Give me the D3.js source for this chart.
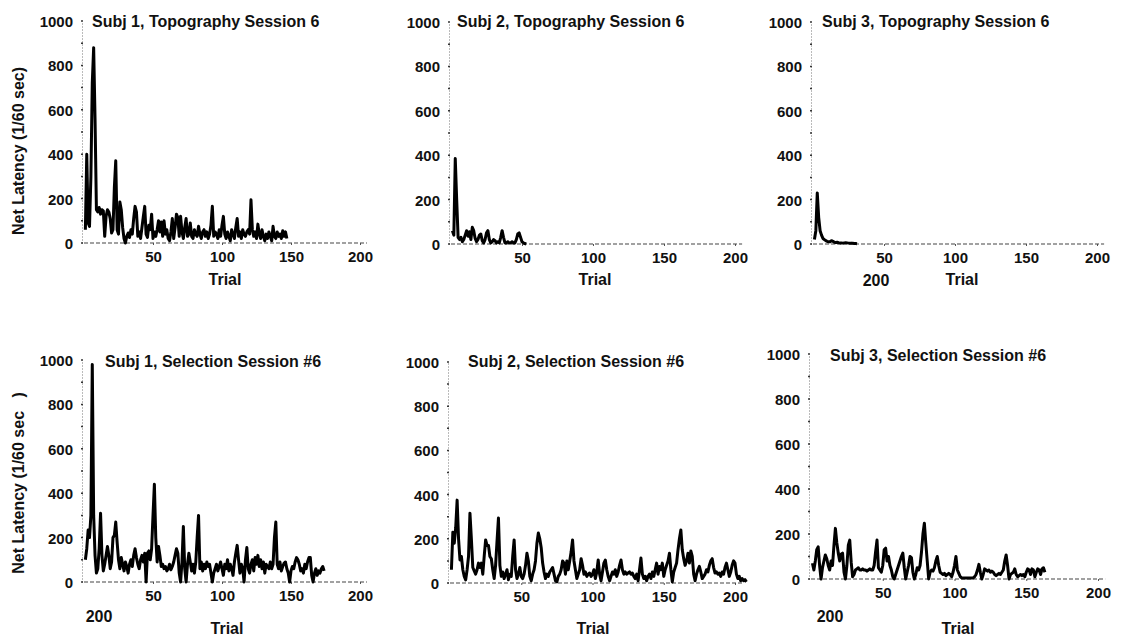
<!DOCTYPE html>
<html>
<head>
<meta charset="utf-8">
<script src="https://cdn.jsdelivr.net/npm/d3@7"></script>
<style>
  html, body { margin: 0; padding: 0; background: #fff; }
  svg { display: block; font-family: "Liberation Sans", Arial, sans-serif; }
  .tick text { font-size: 15px; font-weight: bold; fill: #111; }
  .ttl, .lbl { font-size: 16px; font-weight: bold; fill: #111; }
</style>
</head>
<body>
<svg id="chart" width="1130" height="638"></svg>
<script>
// net latency per trial (1/60 sec)
const topoS1 = [60, 400, 90, 75, 300, 720, 880, 560, 150, 140, 160, 130, 150, 145, 30, 120, 150, 140, 110, 45,
  60, 250, 370, 60, 40, 185, 150, 70, 20, 0, 30, 45, 25, 60, 40, 110, 165, 140, 30, 50,
  20, 70, 120, 165, 40, 25, 80, 60, 130, 20, 50, 30, 60, 100, 50, 95, 30, 100, 40, 60,
  20, 10, 50, 110, 20, 70, 130, 115, 30, 120, 50, 20, 70, 110, 30, 40, 90, 30, 20, 60,
  40, 30, 75, 40, 20, 50, 60, 30, 50, 20, 40, 80, 165, 30, 50, 40, 20, 60, 30, 80,
  120, 40, 20, 50, 30, 10, 60, 40, 20, 70, 110, 30, 50, 20, 60, 40, 30, 50, 60, 40,
  195, 60, 30, 50, 20, 85, 40, 20, 60, 30, 10, 40, 20, 50, 30, 10, 75, 30, 20, 50,
  30, 40, 20, 55, 30, 50, 20];
const topoS2 = [60, 40, 385, 200, 30, 20, 30, 10, 20, 40, 60, 35, 55, 20, 75, 60, 25, 10, 20, 40,
  45, 15, 5, 20, 50, 60, 20, 5, 10, 20, 15, 5, 10, 5, 30, 60, 30, 5, 5, 10,
  5, 5, 10, 5, 5, 20, 45, 50, 30, 10, 5, 2, 0];
const topoS3 = [20, 60, 230, 120, 60, 40, 25, 20, 15, 12, 10, 10, 15, 12, 8, 6, 8, 6, 5, 5,
  4, 5, 6, 5, 4, 3, 4, 3, 2, 2, 1];
const selS1 = [100, 150, 234, 200, 300, 980, 300, 120, 40, 60, 150, 310, 120, 50, 80, 120, 160, 120, 60, 90,
  200, 210, 270, 180, 100, 60, 110, 80, 50, 90, 70, 40, 80, 100, 70, 120, 150, 110, 80, 60,
  100, 120, 90, 130, 0, 130, 140, 100, 150, 300, 440, 200, 90, 160, 120, 70, 80, 60, 70, 50,
  60, 80, 55, 70, 90, 120, 150, 130, 40, 0, 90, 250, 60, 0, 80, 130, 90, 50, 80, 40,
  90, 200, 300, 60, 90, 50, 80, 60, 90, 70, 80, 40, 0, 40, 60, 80, 50, 70, 90, 60,
  30, 80, 60, 100, 50, 80, 60, 30, 90, 130, 165, 100, 40, 80, 60, 0, 100, 155, 60, 40,
  80, 100, 50, 110, 80, 120, 70, 100, 60, 90, 40, 80, 70, 60, 90, 60, 80, 200, 270, 80,
  60, 90, 50, 70, 85, 90, 60, 40, 0, 50, 70, 60, 90, 110, 100, 80, 50, 60, 40, 80,
  60, 90, 110, 110, 30, 0, 40, 60, 30, 50, 40, 60, 70, 50];
const selS2 = [60, 230, 180, 250, 375, 200, 104, 120, 60, 30, 14, 60, 120, 316, 200, 70, 55, 40, 60, 90,
  70, 90, 40, 120, 195, 170, 170, 120, 110, 60, 20, 80, 190, 294, 80, 30, 50, 20, 40, 60,
  15, 40, 30, 120, 195, 60, 20, 40, 70, 30, 20, 40, 80, 135, 100, 30, 10, 40, 60, 100,
  180, 226, 200, 160, 90, 50, 20, 40, 30, 50, 60, 70, 40, 10, 5, 30, 40, 60, 100, 90,
  40, 100, 60, 100, 140, 195, 100, 60, 20, 40, 60, 110, 80, 40, 50, 30, 40, 45, 30, 40,
  60, 20, 50, 104, 40, 10, 50, 90, 104, 60, 30, 10, 30, 50, 40, 60, 30, 50, 80, 104,
  60, 40, 50, 40, 45, 50, 40, 45, 30, 20, 40, 10, 60, 113, 40, 20, 30, 10, 30, 40,
  20, 50, 30, 60, 90, 40, 75, 60, 90, 30, 60, 80, 100, 135, 60, 5, 50, 70, 90, 150,
  200, 240, 150, 110, 80, 100, 135, 90, 145, 120, 40, 10, 40, 60, 75, 50, 20, 30, 40, 60,
  50, 80, 100, 110, 70, 45, 50, 40, 45, 30, 50, 40, 70, 90, 60, 30, 50, 80, 100, 90,
  40, 20, 30, 10, 20, 10, 15, 5];
const selS3 = [70, 40, 80, 130, 143, 60, 0, 50, 80, 107, 90, 60, 40, 80, 60, 150, 225, 160, 115, 80,
  110, 115, 30, 0, 60, 150, 173, 75, 10, 20, 40, 45, 50, 40, 40, 45, 40, 40, 35, 40,
  45, 40, 40, 60, 120, 173, 50, 40, 30, 60, 130, 137, 80, 100, 60, 40, 10, 0, 20, 40,
  60, 80, 100, 115, 50, 0, 30, 60, 100, 95, 30, 0, 20, 50, 40, 60, 120, 200, 248, 160,
  80, 0, 30, 40, 35, 50, 80, 100, 60, 30, 25, 20, 25, 15, 20, 25, 20, 10, 30, 60,
  100, 40, 25, 10, 5, 5, 5, 5, 5, 5, 5, 5, 5, 10, 20, 40, 65, 30, 0, 20,
  45, 40, 35, 40, 30, 35, 30, 20, 15, 20, 25, 20, 30, 40, 80, 107, 60, 0, 20, 25,
  30, 45, 20, 10, 15, 20, 15, 20, 10, 30, 45, 40, 20, 45, 40, 10, 30, 45, 40, 20,
  45, 50, 30];

const titles = ['Subj 1, Topography Session 6', 'Subj 2, Topography Session 6', 'Subj 3, Topography Session 6',
  'Subj 1, Selection Session #6', 'Subj 2, Selection Session #6', 'Subj 3, Selection Session #6'];
const series = [topoS1, topoS2, topoS3, selS1, selS2, selS3];
const yTicks = [0, 200, 400, 600, 800, 1000];
const yMinor = d3.range(0, 1001, 100);
const xTicks = [50, 100, 150, 200];

// pixel frame of each panel: x of trial 0 / 200, y of 0 / 1000
const frames = [
  { x0: 84, x1: 360, y0: 243, y1: 21, tx: 92, ty: 27 },
  { x0: 451, x1: 735, y0: 244, y1: 22, tx: 457, ty: 27 },
  { x0: 813, x1: 1097, y0: 244, y1: 22, tx: 822, ty: 27 },
  { x0: 84, x1: 360, y0: 582, y1: 360, tx: 105, ty: 367 },
  { x0: 450, x1: 735, y0: 583, y1: 362, tx: 468, ty: 367 },
  { x0: 811, x1: 1098, y0: 579, y1: 354, tx: 830, ty: 361 }
];

const svg = d3.select('#chart');

frames.forEach((f, i) => {
  const x = d3.scaleLinear().domain([0, 200]).range([f.x0, f.x1]);
  const y = d3.scaleLinear().domain([0, 1000]).range([f.y0, f.y1]);
  const g = svg.append('g');

  // y axis: dotted spine, dot ticks every 100
  const yAxis = g.append('g')
    .attr('transform', `translate(${f.x0 - 2},0)`)
    .call(d3.axisLeft(y).tickValues(yTicks).tickFormat(d3.format('d')).tickSize(0).tickPadding(9));
  yAxis.select('.domain').attr('stroke', '#777').attr('stroke-dasharray', '1,2');
  yAxis.selectAll('.tick text').attr('dy', '0.36em');
  g.append('g').selectAll('line')
    .data(yMinor)
    .enter().append('line')
    .attr('x1', f.x0 - 3).attr('x2', f.x0 - 1)
    .attr('y1', d => y(d)).attr('y2', d => y(d))
    .attr('stroke', '#333').attr('stroke-width', 1.5);

  // x axis: dashed baseline, labels only
  const xAxis = g.append('g')
    .attr('transform', `translate(0,${f.y0})`)
    .call(d3.axisBottom(x).tickValues(xTicks).tickSize(2).tickPadding(6));
  xAxis.select('.domain').remove();
  xAxis.selectAll('.tick line').attr('stroke', '#555');
  g.append('line')
    .attr('x1', x(0)).attr('x2', x(205))
    .attr('y1', f.y0).attr('y2', f.y0)
    .attr('stroke', '#444').attr('stroke-width', 1.2)
    .attr('stroke-dasharray', '4,2');

  // latency trace
  const line = d3.line()
    .x((d, k) => x(k + 1))
    .y(d => y(d));
  g.append('path')
    .datum(series[i])
    .attr('d', line)
    .attr('fill', 'none')
    .attr('stroke', '#000')
    .attr('stroke-width', 3)
    .attr('stroke-linejoin', 'round');

  g.append('text')
    .attr('class', 'ttl')
    .attr('x', f.tx).attr('y', f.ty)
    .text(titles[i]);
});

// axis titles (as laid out in the scan)
const lbls = [
  { x: 225, y: 285, t: 'Trial' }, { x: 595, y: 285, t: 'Trial' }, { x: 962, y: 285, t: 'Trial' },
  { x: 227, y: 634, t: 'Trial' }, { x: 593, y: 634, t: 'Trial' }, { x: 958, y: 634, t: 'Trial' },
  { x: 876, y: 286, t: '200' }, { x: 99, y: 622, t: '200' }, { x: 830, y: 622, t: '200' }
];
svg.selectAll('.lbl')
  .data(lbls)
  .enter().append('text')
  .attr('class', 'lbl')
  .attr('x', d => d.x).attr('y', d => d.y)
  .attr('text-anchor', 'middle')
  .text(d => d.t);

svg.append('text')
  .attr('class', 'lbl')
  .attr('transform', 'translate(24,151) rotate(-90)')
  .attr('text-anchor', 'middle')
  .text('Net Latency (1/60 sec)');
svg.append('text')
  .attr('class', 'lbl')
  .attr('transform', 'translate(24,483) rotate(-90)')
  .attr('text-anchor', 'middle')
  .style('white-space', 'pre')
  .text('Net Latency (1/60 sec   )');
</script>
</body>
</html>
